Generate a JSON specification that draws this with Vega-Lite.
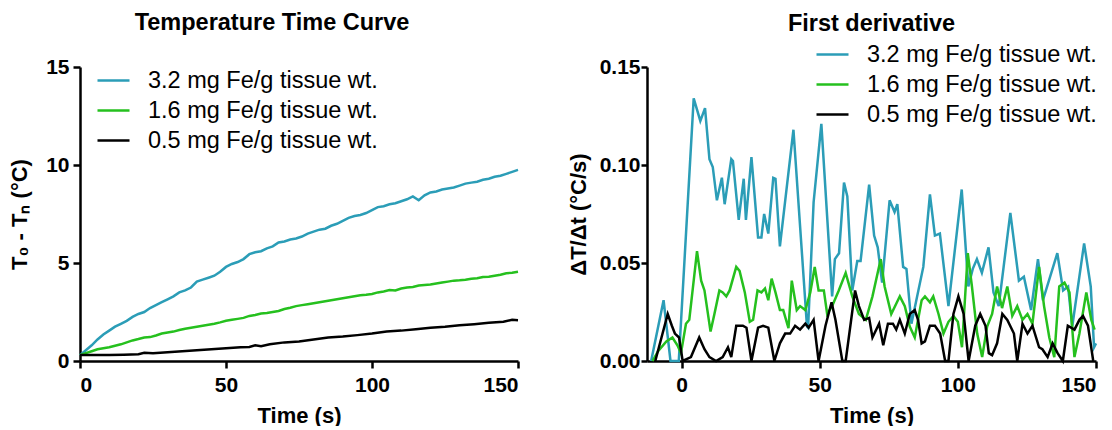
{
 "$schema": "https://vega.github.io/schema/vega-lite/v6.json",
 "padding": {"left": 8, "top": 10, "right": 0, "bottom": 0},
 "config": {
  "view": {"stroke": null},
  "font": "Liberation Sans",
  "axis": {"domainColor": "black", "domainWidth": 2.5, "tickColor": "black", "tickWidth": 2.5, "tickSize": 7, "labelFont": "Liberation Sans", "labelFontSize": 21, "labelFontWeight": "bold", "labelColor": "black", "titleFont": "Liberation Sans", "titleFontSize": 22, "titleFontWeight": "bold", "titleColor": "black", "grid": false, "labelPadding": 4, "titlePadding": 8},
  "axisX": {"labelPadding": 6, "titlePadding": 10},
  "title": {"font": "Liberation Sans", "fontSize": 23.5, "fontWeight": "bold", "color": "black"},
  "legend": {"symbolType": "stroke", "symbolSize": 1024, "symbolStrokeWidth": 2.5, "labelFontSize": 23.5, "labelFont": "Liberation Sans", "labelColor": "black", "labelOffset": 17, "labelLimit": 0, "rowPadding": 1, "padding": 0},
  "concat": {"spacing": 44}
 },
 "resolve": {"scale": {"color": "independent"}, "legend": {"color": "independent"}},
 "datasets": {
  "temp": [
   {"s":"3.2","t":0,"v":0.3},{"s":"3.2","t":2,"v":0.55},{"s":"3.2","t":4,"v":0.8},{"s":"3.2","t":6,"v":1.1},{"s":"3.2","t":8,"v":1.35},{"s":"3.2","t":10,"v":1.55},{"s":"3.2","t":12,"v":1.75},{"s":"3.2","t":14,"v":1.9},{"s":"3.2","t":16,"v":2.05},{"s":"3.2","t":18,"v":2.25},{"s":"3.2","t":20,"v":2.4},{"s":"3.2","t":22,"v":2.5},{"s":"3.2","t":24,"v":2.7},{"s":"3.2","t":26,"v":2.85},{"s":"3.2","t":28,"v":3.0},{"s":"3.2","t":30,"v":3.15},{"s":"3.2","t":32,"v":3.3},{"s":"3.2","t":34,"v":3.5},{"s":"3.2","t":36,"v":3.6},{"s":"3.2","t":38,"v":3.75},{"s":"3.2","t":40,"v":4.05},{"s":"3.2","t":42,"v":4.15},{"s":"3.2","t":44,"v":4.25},{"s":"3.2","t":46,"v":4.35},{"s":"3.2","t":48,"v":4.55},{"s":"3.2","t":50,"v":4.8},{"s":"3.2","t":52,"v":4.95},{"s":"3.2","t":54,"v":5.05},{"s":"3.2","t":56,"v":5.2},{"s":"3.2","t":58,"v":5.45},{"s":"3.2","t":60,"v":5.55},{"s":"3.2","t":62,"v":5.6},{"s":"3.2","t":64,"v":5.75},{"s":"3.2","t":66,"v":5.85},{"s":"3.2","t":68,"v":6.05},{"s":"3.2","t":70,"v":6.1},{"s":"3.2","t":72,"v":6.2},{"s":"3.2","t":74,"v":6.25},{"s":"3.2","t":76,"v":6.35},{"s":"3.2","t":78,"v":6.5},{"s":"3.2","t":80,"v":6.6},{"s":"3.2","t":82,"v":6.7},{"s":"3.2","t":84,"v":6.75},{"s":"3.2","t":86,"v":6.9},{"s":"3.2","t":88,"v":7.0},{"s":"3.2","t":90,"v":7.15},{"s":"3.2","t":92,"v":7.3},{"s":"3.2","t":94,"v":7.4},{"s":"3.2","t":96,"v":7.45},{"s":"3.2","t":98,"v":7.55},{"s":"3.2","t":100,"v":7.7},{"s":"3.2","t":102,"v":7.85},{"s":"3.2","t":104,"v":7.9},{"s":"3.2","t":106,"v":8.0},{"s":"3.2","t":108,"v":8.05},{"s":"3.2","t":110,"v":8.15},{"s":"3.2","t":112,"v":8.25},{"s":"3.2","t":114,"v":8.4},{"s":"3.2","t":116,"v":8.2},{"s":"3.2","t":118,"v":8.45},{"s":"3.2","t":120,"v":8.6},{"s":"3.2","t":122,"v":8.65},{"s":"3.2","t":124,"v":8.75},{"s":"3.2","t":126,"v":8.8},{"s":"3.2","t":128,"v":8.85},{"s":"3.2","t":130,"v":8.95},{"s":"3.2","t":132,"v":9.05},{"s":"3.2","t":134,"v":9.1},{"s":"3.2","t":136,"v":9.15},{"s":"3.2","t":138,"v":9.25},{"s":"3.2","t":140,"v":9.3},{"s":"3.2","t":142,"v":9.4},{"s":"3.2","t":144,"v":9.45},{"s":"3.2","t":146,"v":9.55},{"s":"3.2","t":148,"v":9.65},{"s":"3.2","t":150,"v":9.75},
   {"s":"1.6","t":0,"v":0.3},{"s":"1.6","t":2,"v":0.4},{"s":"1.6","t":4,"v":0.5},{"s":"1.6","t":6,"v":0.6},{"s":"1.6","t":8,"v":0.65},{"s":"1.6","t":10,"v":0.7},{"s":"1.6","t":12,"v":0.78},{"s":"1.6","t":14,"v":0.85},{"s":"1.6","t":16,"v":0.95},{"s":"1.6","t":18,"v":1.05},{"s":"1.6","t":20,"v":1.12},{"s":"1.6","t":22,"v":1.2},{"s":"1.6","t":24,"v":1.22},{"s":"1.6","t":26,"v":1.3},{"s":"1.6","t":28,"v":1.4},{"s":"1.6","t":30,"v":1.45},{"s":"1.6","t":32,"v":1.5},{"s":"1.6","t":34,"v":1.58},{"s":"1.6","t":36,"v":1.65},{"s":"1.6","t":38,"v":1.7},{"s":"1.6","t":40,"v":1.75},{"s":"1.6","t":42,"v":1.8},{"s":"1.6","t":44,"v":1.85},{"s":"1.6","t":46,"v":1.9},{"s":"1.6","t":48,"v":1.97},{"s":"1.6","t":50,"v":2.05},{"s":"1.6","t":52,"v":2.1},{"s":"1.6","t":54,"v":2.15},{"s":"1.6","t":56,"v":2.2},{"s":"1.6","t":58,"v":2.3},{"s":"1.6","t":60,"v":2.35},{"s":"1.6","t":62,"v":2.42},{"s":"1.6","t":64,"v":2.45},{"s":"1.6","t":66,"v":2.5},{"s":"1.6","t":68,"v":2.55},{"s":"1.6","t":70,"v":2.65},{"s":"1.6","t":72,"v":2.72},{"s":"1.6","t":74,"v":2.8},{"s":"1.6","t":76,"v":2.85},{"s":"1.6","t":78,"v":2.9},{"s":"1.6","t":80,"v":2.95},{"s":"1.6","t":82,"v":3.0},{"s":"1.6","t":84,"v":3.05},{"s":"1.6","t":86,"v":3.1},{"s":"1.6","t":88,"v":3.15},{"s":"1.6","t":90,"v":3.2},{"s":"1.6","t":92,"v":3.25},{"s":"1.6","t":94,"v":3.3},{"s":"1.6","t":96,"v":3.35},{"s":"1.6","t":98,"v":3.38},{"s":"1.6","t":100,"v":3.42},{"s":"1.6","t":102,"v":3.5},{"s":"1.6","t":104,"v":3.55},{"s":"1.6","t":106,"v":3.62},{"s":"1.6","t":108,"v":3.6},{"s":"1.6","t":110,"v":3.7},{"s":"1.6","t":112,"v":3.75},{"s":"1.6","t":114,"v":3.78},{"s":"1.6","t":116,"v":3.85},{"s":"1.6","t":118,"v":3.88},{"s":"1.6","t":120,"v":3.9},{"s":"1.6","t":122,"v":3.95},{"s":"1.6","t":124,"v":4.0},{"s":"1.6","t":126,"v":4.05},{"s":"1.6","t":128,"v":4.1},{"s":"1.6","t":130,"v":4.12},{"s":"1.6","t":132,"v":4.15},{"s":"1.6","t":134,"v":4.2},{"s":"1.6","t":136,"v":4.22},{"s":"1.6","t":138,"v":4.28},{"s":"1.6","t":140,"v":4.3},{"s":"1.6","t":142,"v":4.35},{"s":"1.6","t":144,"v":4.4},{"s":"1.6","t":146,"v":4.48},{"s":"1.6","t":148,"v":4.5},{"s":"1.6","t":150,"v":4.55},
   {"s":"0.5","t":0,"v":0.3},{"s":"0.5","t":5,"v":0.3},{"s":"0.5","t":10,"v":0.3},{"s":"0.5","t":15,"v":0.32},{"s":"0.5","t":20,"v":0.35},{"s":"0.5","t":22,"v":0.42},{"s":"0.5","t":25,"v":0.4},{"s":"0.5","t":30,"v":0.45},{"s":"0.5","t":35,"v":0.5},{"s":"0.5","t":40,"v":0.55},{"s":"0.5","t":45,"v":0.6},{"s":"0.5","t":50,"v":0.65},{"s":"0.5","t":55,"v":0.7},{"s":"0.5","t":58,"v":0.72},{"s":"0.5","t":60,"v":0.8},{"s":"0.5","t":62,"v":0.75},{"s":"0.5","t":65,"v":0.85},{"s":"0.5","t":70,"v":0.95},{"s":"0.5","t":75,"v":1.0},{"s":"0.5","t":80,"v":1.1},{"s":"0.5","t":85,"v":1.2},{"s":"0.5","t":90,"v":1.25},{"s":"0.5","t":95,"v":1.32},{"s":"0.5","t":100,"v":1.4},{"s":"0.5","t":105,"v":1.5},{"s":"0.5","t":110,"v":1.55},{"s":"0.5","t":115,"v":1.62},{"s":"0.5","t":120,"v":1.7},{"s":"0.5","t":125,"v":1.75},{"s":"0.5","t":130,"v":1.82},{"s":"0.5","t":135,"v":1.88},{"s":"0.5","t":140,"v":1.95},{"s":"0.5","t":145,"v":2.0},{"s":"0.5","t":148,"v":2.1},{"s":"0.5","t":150,"v":2.08}
  ],
  "deriv": [
   {"s":"3.2","t":-11,"v":0},{"s":"3.2","t":-6.5,"v":0.031},{"s":"3.2","t":-4,"v":0},{"s":"3.2","t":-1,"v":0},{"s":"3.2","t":4.4,"v":0.134},{"s":"3.2","t":6.8,"v":0.1225},{"s":"3.2","t":8.5,"v":0.129},{"s":"3.2","t":10.1,"v":0.103},{"s":"3.2","t":11.3,"v":0.099},{"s":"3.2","t":12.8,"v":0.082},{"s":"3.2","t":14.6,"v":0.0935},{"s":"3.2","t":15.6,"v":0.08},{"s":"3.2","t":18,"v":0.103},{"s":"3.2","t":18.6,"v":0.102},{"s":"3.2","t":20.7,"v":0.072},{"s":"3.2","t":22.5,"v":0.093},{"s":"3.2","t":23.3,"v":0.072},{"s":"3.2","t":25.3,"v":0.104},{"s":"3.2","t":27.7,"v":0.063},{"s":"3.2","t":28.9,"v":0.063},{"s":"3.2","t":29.9,"v":0.075},{"s":"3.2","t":31.4,"v":0.065},{"s":"3.2","t":33.2,"v":0.0935},{"s":"3.2","t":34,"v":0.093},{"s":"3.2","t":35.6,"v":0.0585},{"s":"3.2","t":40.5,"v":0.118},{"s":"3.2","t":45.4,"v":0.0176},{"s":"3.2","t":45.8,"v":0.017},{"s":"3.2","t":47.8,"v":0.081},{"s":"3.2","t":50.6,"v":0.121},{"s":"3.2","t":54.5,"v":0.033},{"s":"3.2","t":55.5,"v":0.052},{"s":"3.2","t":57,"v":0.055},{"s":"3.2","t":58.8,"v":0.091},{"s":"3.2","t":60,"v":0.084},{"s":"3.2","t":61.8,"v":0.036},{"s":"3.2","t":63.6,"v":0.051},{"s":"3.2","t":64.8,"v":0.051},{"s":"3.2","t":67.9,"v":0.09},{"s":"3.2","t":69.7,"v":0.064},{"s":"3.2","t":71,"v":0.058},{"s":"3.2","t":72.6,"v":0.04},{"s":"3.2","t":75.3,"v":0.082},{"s":"3.2","t":77.1,"v":0.076},{"s":"3.2","t":78.1,"v":0.08},{"s":"3.2","t":80.2,"v":0.048},{"s":"3.2","t":81.4,"v":0.047},{"s":"3.2","t":83.2,"v":0.019},{"s":"3.2","t":87.5,"v":0.048},{"s":"3.2","t":89.9,"v":0.085},{"s":"3.2","t":91.7,"v":0.064},{"s":"3.2","t":93.5,"v":0.065},{"s":"3.2","t":96.6,"v":0.028},{"s":"3.2","t":101.4,"v":0.0875},{"s":"3.2","t":103.8,"v":0.038},{"s":"3.2","t":105.4,"v":0.047},{"s":"3.2","t":106.9,"v":0.052},{"s":"3.2","t":108.7,"v":0.045},{"s":"3.2","t":111.1,"v":0.058},{"s":"3.2","t":112.9,"v":0.035},{"s":"3.2","t":114.8,"v":0.028},{"s":"3.2","t":119,"v":0.0756},{"s":"3.2","t":122.1,"v":0.041},{"s":"3.2","t":123.9,"v":0.043},{"s":"3.2","t":126.5,"v":0.026},{"s":"3.2","t":129,"v":0.052},{"s":"3.2","t":130.8,"v":0.031},{"s":"3.2","t":136,"v":0.055},{"s":"3.2","t":138.1,"v":0.036},{"s":"3.2","t":139.9,"v":0.038},{"s":"3.2","t":141.4,"v":0.0176},{"s":"3.2","t":145.7,"v":0.06},{"s":"3.2","t":148.1,"v":0.038},{"s":"3.2","t":149.3,"v":0.007},{"s":"3.2","t":150,"v":0.009},
   {"s":"1.6","t":-10.5,"v":0},{"s":"1.6","t":-8.5,"v":0.005},{"s":"1.6","t":-5.5,"v":0.01},{"s":"1.6","t":-3.3,"v":0.012},{"s":"1.6","t":-1.5,"v":0.008},{"s":"1.6","t":-0.2,"v":0.004},{"s":"1.6","t":1.6,"v":0.019},{"s":"1.6","t":2.8,"v":0.021},{"s":"1.6","t":5.6,"v":0.056},{"s":"1.6","t":7.1,"v":0.041},{"s":"1.6","t":8.3,"v":0.036},{"s":"1.6","t":10.5,"v":0.015},{"s":"1.6","t":11.9,"v":0.024},{"s":"1.6","t":13.7,"v":0.036},{"s":"1.6","t":14.9,"v":0.035},{"s":"1.6","t":16.2,"v":0.033},{"s":"1.6","t":17.4,"v":0.036},{"s":"1.6","t":19.8,"v":0.048},{"s":"1.6","t":21,"v":0.046},{"s":"1.6","t":22.9,"v":0.035},{"s":"1.6","t":24.7,"v":0.02},{"s":"1.6","t":25.9,"v":0.021},{"s":"1.6","t":27.5,"v":0.036},{"s":"1.6","t":28.9,"v":0.035},{"s":"1.6","t":30.2,"v":0.037},{"s":"1.6","t":31.4,"v":0.031},{"s":"1.6","t":32.6,"v":0.042},{"s":"1.6","t":34,"v":0.035},{"s":"1.6","t":35.6,"v":0.026},{"s":"1.6","t":36.8,"v":0.026},{"s":"1.6","t":38.7,"v":0.0167},{"s":"1.6","t":39.9,"v":0.041},{"s":"1.6","t":41.7,"v":0.026},{"s":"1.6","t":42.9,"v":0.028},{"s":"1.6","t":44.8,"v":0.026},{"s":"1.6","t":46.6,"v":0.035},{"s":"1.6","t":48.2,"v":0.048},{"s":"1.6","t":49.6,"v":0.036},{"s":"1.6","t":51.5,"v":0.036},{"s":"1.6","t":52.7,"v":0.024},{"s":"1.6","t":54.5,"v":0.028},{"s":"1.6","t":56.9,"v":0.036},{"s":"1.6","t":59.4,"v":0.045},{"s":"1.6","t":61.8,"v":0.033},{"s":"1.6","t":64.2,"v":0.024},{"s":"1.6","t":66.7,"v":0.021},{"s":"1.6","t":69.1,"v":0.033},{"s":"1.6","t":72.1,"v":0.052},{"s":"1.6","t":73.5,"v":0.038},{"s":"1.6","t":75.9,"v":0.024},{"s":"1.6","t":79,"v":0.033},{"s":"1.6","t":80.8,"v":0.028},{"s":"1.6","t":82.6,"v":0.0176},{"s":"1.6","t":84.4,"v":0.012},{"s":"1.6","t":85.6,"v":0.021},{"s":"1.6","t":86.9,"v":0.031},{"s":"1.6","t":88.1,"v":0.033},{"s":"1.6","t":89.9,"v":0.03},{"s":"1.6","t":91.1,"v":0.033},{"s":"1.6","t":93,"v":0.024},{"s":"1.6","t":94.8,"v":0.014},{"s":"1.6","t":96.6,"v":0.02},{"s":"1.6","t":98.4,"v":0.023},{"s":"1.6","t":100,"v":0.02},{"s":"1.6","t":101.5,"v":0.007},{"s":"1.6","t":103.6,"v":0.055},{"s":"1.6","t":105.1,"v":0.038},{"s":"1.6","t":107,"v":0.014},{"s":"1.6","t":108.8,"v":0.002},{"s":"1.6","t":110.6,"v":0.0176},{"s":"1.6","t":112.4,"v":0.024},{"s":"1.6","t":114.2,"v":0.038},{"s":"1.6","t":116,"v":0.027},{"s":"1.6","t":117.9,"v":0.038},{"s":"1.6","t":119.7,"v":0.023},{"s":"1.6","t":121.5,"v":0.028},{"s":"1.6","t":123.4,"v":0.021},{"s":"1.6","t":125.2,"v":0.024},{"s":"1.6","t":127,"v":0.019},{"s":"1.6","t":129.4,"v":0.048},{"s":"1.6","t":131.2,"v":0.028},{"s":"1.6","t":133.1,"v":0.012},{"s":"1.6","t":134.9,"v":0.002},{"s":"1.6","t":136.7,"v":0.038},{"s":"1.6","t":138.6,"v":0.04},{"s":"1.6","t":140.4,"v":0.035},{"s":"1.6","t":142.2,"v":0.002},{"s":"1.6","t":144,"v":0.014},{"s":"1.6","t":146.5,"v":0.035},{"s":"1.6","t":148.3,"v":0.021},{"s":"1.6","t":149.5,"v":0.016},
   {"s":"0.5","t":-9.5,"v":0},{"s":"0.5","t":-5,"v":0.024},{"s":"0.5","t":-3.5,"v":0.018},{"s":"0.5","t":-2.4,"v":0.014},{"s":"0.5","t":-0.9,"v":0.012},{"s":"0.5","t":0.4,"v":0},{"s":"0.5","t":3.4,"v":0.002},{"s":"0.5","t":6.4,"v":0.012},{"s":"0.5","t":8.3,"v":0.006},{"s":"0.5","t":10.1,"v":0.002},{"s":"0.5","t":12.5,"v":0},{"s":"0.5","t":14.9,"v":0.002},{"s":"0.5","t":16.8,"v":0.007},{"s":"0.5","t":18,"v":0.002},{"s":"0.5","t":19.8,"v":0.018},{"s":"0.5","t":22.2,"v":0.018},{"s":"0.5","t":23.5,"v":0.017},{"s":"0.5","t":25.3,"v":0},{"s":"0.5","t":27.7,"v":0.017},{"s":"0.5","t":29.5,"v":0.018},{"s":"0.5","t":31.4,"v":0.017},{"s":"0.5","t":33.6,"v":0},{"s":"0.5","t":35.6,"v":0.009},{"s":"0.5","t":37.5,"v":0.014},{"s":"0.5","t":39.3,"v":0.014},{"s":"0.5","t":41.1,"v":0.018},{"s":"0.5","t":42.9,"v":0.016},{"s":"0.5","t":44.8,"v":0.019},{"s":"0.5","t":46,"v":0.017},{"s":"0.5","t":47.8,"v":0.021},{"s":"0.5","t":49.6,"v":0},{"s":"0.5","t":52.1,"v":0.018},{"s":"0.5","t":54.3,"v":0.03},{"s":"0.5","t":55.7,"v":0.021},{"s":"0.5","t":58.2,"v":0},{"s":"0.5","t":59.4,"v":0},{"s":"0.5","t":61.2,"v":0.019},{"s":"0.5","t":62.8,"v":0.036},{"s":"0.5","t":64.2,"v":0.028},{"s":"0.5","t":66.1,"v":0.021},{"s":"0.5","t":67.9,"v":0.022},{"s":"0.5","t":69.1,"v":0.012},{"s":"0.5","t":71.5,"v":0.019},{"s":"0.5","t":73,"v":0.008},{"s":"0.5","t":74.7,"v":0.019},{"s":"0.5","t":76.5,"v":0.019},{"s":"0.5","t":77.7,"v":0.016},{"s":"0.5","t":79,"v":0.021},{"s":"0.5","t":80.8,"v":0.014},{"s":"0.5","t":82.6,"v":0.024},{"s":"0.5","t":84.4,"v":0.026},{"s":"0.5","t":85.6,"v":0.021},{"s":"0.5","t":86.9,"v":0.009},{"s":"0.5","t":88.1,"v":0.01},{"s":"0.5","t":89.9,"v":0.018},{"s":"0.5","t":91.7,"v":0.018},{"s":"0.5","t":93.6,"v":0.014},{"s":"0.5","t":95.4,"v":0},{"s":"0.5","t":96.6,"v":0},{"s":"0.5","t":98.4,"v":0.024},{"s":"0.5","t":100.2,"v":0.033},{"s":"0.5","t":102.1,"v":0.024},{"s":"0.5","t":103.9,"v":0},{"s":"0.5","t":106.3,"v":0.018},{"s":"0.5","t":108.1,"v":0.024},{"s":"0.5","t":110,"v":0.018},{"s":"0.5","t":111.2,"v":0.004},{"s":"0.5","t":112.4,"v":0.003},{"s":"0.5","t":114.2,"v":0.009},{"s":"0.5","t":116.1,"v":0.024},{"s":"0.5","t":117.9,"v":0.021},{"s":"0.5","t":120.3,"v":0.014},{"s":"0.5","t":121.5,"v":0},{"s":"0.5","t":123.4,"v":0.019},{"s":"0.5","t":125.2,"v":0.014},{"s":"0.5","t":127,"v":0.018},{"s":"0.5","t":129.4,"v":0.007},{"s":"0.5","t":130.6,"v":0.006},{"s":"0.5","t":132.5,"v":0.002},{"s":"0.5","t":134.3,"v":0.009},{"s":"0.5","t":136.1,"v":0.004},{"s":"0.5","t":138,"v":0},{"s":"0.5","t":139.8,"v":0.018},{"s":"0.5","t":142.2,"v":0.016},{"s":"0.5","t":144,"v":0.021},{"s":"0.5","t":145.3,"v":0.023},{"s":"0.5","t":147.1,"v":0.018},{"s":"0.5","t":149,"v":0}
  ]
 },
 "hconcat": [
  {
   "width": 438, "height": 294,
   "title": {"text": "Temperature Time Curve", "offset": 22, "dx": -27},
   "data": {"name": "temp"},
   "mark": {"type": "line", "strokeWidth": 2.5},
   "encoding": {
    "x": {"field": "t", "type": "quantitative", "scale": {"domain": [0, 150], "nice": false}, "axis": {"values": [0, 50, 100, 150], "title": "Time (s)"}},
    "y": {"field": "v", "type": "quantitative", "scale": {"domain": [0, 15], "nice": false}, "axis": {"values": [0, 5, 10, 15], "title": "T₀ - Tₙ (°C)", "titlePadding": 14}},
    "color": {"field": "s", "type": "nominal", "scale": {"domain": ["3.2", "1.6", "0.5"], "range": ["#2B9DB7", "#25C01E", "#000000"]}, "legend": {"orient": "none", "legendX": 16, "legendY": -4, "title": null, "labelExpr": "datum.label + ' mg Fe/g tissue wt.'"}}
   }
  },
  {
   "width": 449, "height": 294,
   "title": {"text": "First derivative", "offset": 2, "frame": "group"},
   "data": {"name": "deriv"},
   "mark": {"type": "line", "strokeWidth": 2.5},
   "encoding": {
    "x": {"field": "t", "type": "quantitative", "scale": {"domain": [-12.5, 150], "nice": false}, "axis": {"values": [0, 50, 100, 150], "title": "Time (s)"}},
    "y": {"field": "v", "type": "quantitative", "scale": {"domain": [0, 0.15], "nice": false}, "axis": {"values": [0, 0.05, 0.1, 0.15], "format": ".2f", "title": "ΔT/Δt (°C/s)", "titlePadding": 9, "labelPadding": 1, "tickSize": 6}},
    "color": {"field": "s", "type": "nominal", "scale": {"domain": ["3.2", "1.6", "0.5"], "range": ["#2B9DB7", "#25C01E", "#000000"]}, "legend": {"orient": "none", "legendX": 168, "legendY": -30, "title": null, "labelExpr": "datum.label + ' mg Fe/g tissue wt.'"}}
   }
  }
 ]
}
